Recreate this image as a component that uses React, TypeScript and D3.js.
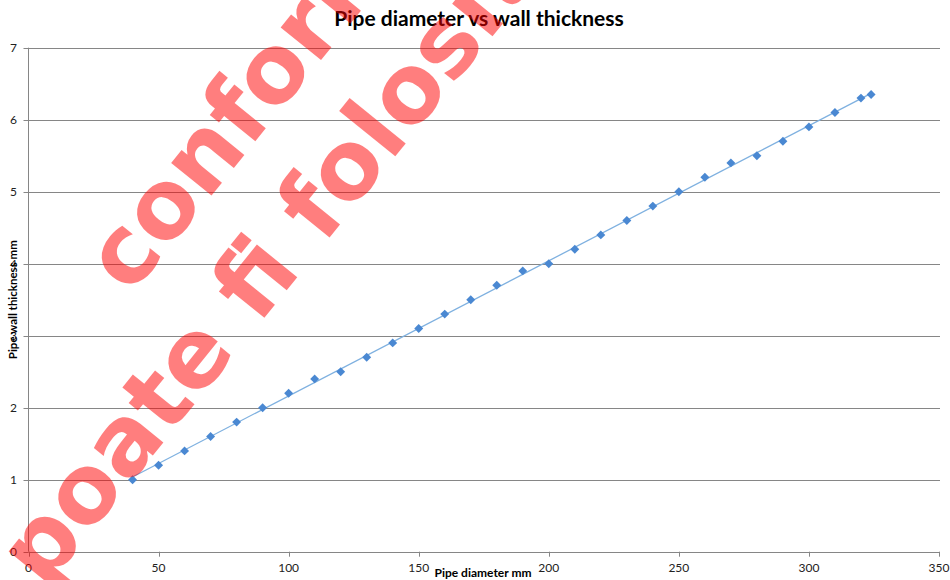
import React from 'react';
import * as d3 from 'd3';

const diameters = [40, 50, 60, 70, 80, 90, 100, 110, 120, 130, 140, 150, 160, 170, 180, 190, 200, 210, 220, 230, 240, 250, 260, 270, 280, 290, 300, 310, 320, 323.9];
const thickness = [1.0, 1.2, 1.4, 1.6, 1.8, 2.0, 2.2, 2.4, 2.5, 2.7, 2.9, 3.1, 3.3, 3.5, 3.7, 3.9, 4.0, 4.2, 4.4, 4.6, 4.8, 5.0, 5.2, 5.4, 5.5, 5.7, 5.9, 6.1, 6.3, 6.35];
const xTicks = [0, 50, 100, 150, 200, 250, 300, 350];
const yTicks = [0, 1, 2, 3, 4, 5, 6, 7];
const titleText = 'Pipe diameter vs wall thickness';
const xTitle = 'Pipe diameter mm';
const yTitle = 'Pipe wall thickness mm';
const watermarkLines = ['conform cu originalul', 'poate fi folosit'];

const W = 950;
const H = 580;
const M = { left: 28.5, right: 939, top: 47.7, bottom: 551.7 };
const font = 'Lato, "Open Sans", sans-serif';

export default function App() {
  const x = d3.scaleLinear().domain([0, 350]).range([M.left, M.right]);
  const y = d3.scaleLinear().domain([0, 7]).range([M.bottom, M.top]);

  const pts = diameters.map((d, i) => ({ d, t: thickness[i] }));
  const mx = d3.mean(pts, p => p.d) as number;
  const my = d3.mean(pts, p => p.t) as number;
  const sxy = d3.sum(pts, p => (p.d - mx) * (p.t - my));
  const sxx = d3.sum(pts, p => (p.d - mx) * (p.d - mx));
  const slope = sxy / sxx;
  const intercept = my - slope * mx;
  const xExt = d3.extent(diameters) as [number, number];
  const trend = d3.line<number>().x(v => x(v)).y(v => y(intercept + slope * v))(xExt) || '';

  const marker = d3.symbol().type(d3.symbolSquare).size(40)() || '';

  const angle = -51;
  const fs = 95;

  return (
    <svg width={W} height={H} style={{ position: 'absolute', left: 0, top: 0, background: '#fff' }}>
      <rect x={0} y={0} width={W} height={H} fill="#fff" />
      {yTicks.map(t => (
        <line key={'g' + t} x1={M.left} x2={M.right + 1} y1={Math.round(y(t)) + 0.5} y2={Math.round(y(t)) + 0.5} stroke="#868686" strokeWidth={1} />
      ))}
      <line x1={M.left} x2={M.left} y1={M.top} y2={M.bottom} stroke="#868686" strokeWidth={1} />
      {yTicks.map(t => (
        <g key={'yt' + t}>
          <line x1={M.left - 5} x2={M.left} y1={Math.round(y(t)) + 0.5} y2={Math.round(y(t)) + 0.5} stroke="#868686" />
          <text x={17} y={y(t)} dy="0.36em" textAnchor="end" fontFamily={font} fontSize={12} fill="#222">{t}</text>
        </g>
      ))}
      {xTicks.map(t => (
        <g key={'xt' + t}>
          <line x1={Math.round(x(t)) + 0.5} x2={Math.round(x(t)) + 0.5} y1={M.bottom} y2={M.bottom + 5} stroke="#868686" />
          <text x={x(t)} y={572} textAnchor="middle" fontFamily={font} fontSize={12} fill="#222">{t}</text>
        </g>
      ))}
      <path d={trend} fill="none" stroke="#7fb1e0" strokeWidth={1.3} />
      {pts.map((p, i) => (
        <path key={'m' + i} d={marker} transform={`translate(${x(p.d)},${y(p.t)}) rotate(45)`} fill="#4a88d2" />
      ))}
      <text x={479} y={25.5} textAnchor="middle" fontFamily={font} fontWeight="bold" fontSize={21} fill="#000">{titleText}</text>
      <text x={483} y={577} textAnchor="middle" fontFamily={font} fontWeight="bold" fontSize={12} fill="#000">{xTitle}</text>
      <text transform={`translate(17,${(M.top + M.bottom) / 2}) rotate(-90)`} textAnchor="middle" fontFamily={font} fontWeight="bold" fontSize={11.5} fill="#000">{yTitle}</text>
      <g fill="#ff0000" opacity={0.5} fontFamily='"DejaVu Sans", Verdana, sans-serif' fontWeight="bold" fontSize={fs}>
        <text transform={`translate(110,280) rotate(${angle})`} dy="0.27em">{watermarkLines[0]}</text>
        <text transform={`translate(24,574) rotate(${angle})`} dy="0.27em">{watermarkLines[1]}</text>
      </g>
    </svg>
  );
}
